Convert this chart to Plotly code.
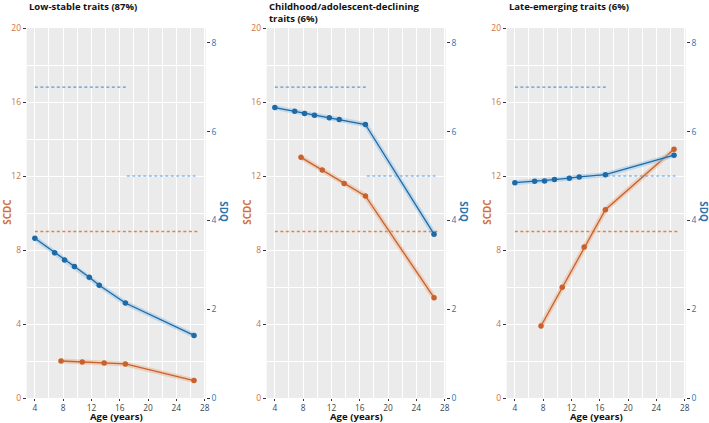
import plotly.graph_objects as go

# ---------------- data ----------------
panel_titles = ["Low-stable traits (87%)",
                "Childhood/adolescent-declining<br>traits (6%)",
                "Late-emerging traits (6%)"]

sdq_age = [4, 6.8, 8.2, 9.6, 11.7, 13.1, 16.8, 26.5]
scdc_age = [7.7, 10.7, 13.8, 16.8, 26.5]

sdq_low = [3.60, 3.27, 3.11, 2.96, 2.72, 2.54, 2.14, 1.41]
sdq_decl = [6.54, 6.46, 6.41, 6.37, 6.31, 6.27, 6.16, 3.69]
sdq_late = [4.85, 4.88, 4.89, 4.92, 4.95, 4.98, 5.03, 5.47]

scdc_low = [2.00, 1.95, 1.89, 1.84, 0.94]
scdc_decl = [13.01, 12.32, 11.60, 10.92, 5.42]
scdc_late = [3.89, 5.98, 8.16, 10.18, 13.44]

# clinical thresholds (dashed)
sdq_thr_child_age = [4, 17]
sdq_thr_child = [7, 7]
sdq_thr_adult_age = [17, 26.7]
sdq_thr_adult = [5, 5]
scdc_thr_age = [4, 27]
scdc_thr = [9, 9]

x_ticks = [4, 8, 12, 16, 20, 24, 28]
scdc_ticks = [0, 4, 8, 12, 16, 20]
sdq_ticks = [0, 2, 4, 6, 8]

# ---------------- style ----------------
W, H = 709, 423
ORANGE = "#C8612B"
BLUE = "#1D6AA6"
ORANGE_TXT = "#D0733C"
BLUE_TXT = "#2B74AE"
BLUE_DASH = "rgba(80,150,215,0.95)"
ORANGE_DASH = "#E5823F"
FONT = "Open Sans"
SCALE = 2.4  # SCDC = SDQ * 2.4

panel_left_px = [26.7, 266.7, 506.7]
panel_w_px = 179.0
top_px, bottom_px = 28.0, 398.0

sdq_series = [sdq_low, sdq_decl, sdq_late]
scdc_series = [scdc_low, scdc_decl, scdc_late]

fig = go.Figure()
annotations = []
layout = {}

for i in range(3):
    n = i + 1
    xa = "x" if n == 1 else f"x{n}"
    yl_id = 2 * i + 1
    yr_id = 2 * i + 2
    yl = "y" if yl_id == 1 else f"y{yl_id}"
    yr = f"y{yr_id}"

    # threshold dashed lines
    fig.add_trace(go.Scatter(x=sdq_thr_child_age, y=sdq_thr_child, mode="lines",
                             line=dict(color=BLUE_DASH, width=1.2, dash="3px,2.5px"),
                             xaxis=xa, yaxis=yr, showlegend=False, hoverinfo="skip"))
    fig.add_trace(go.Scatter(x=sdq_thr_adult_age, y=sdq_thr_adult, mode="lines",
                             line=dict(color=BLUE_DASH, width=1.2, dash="3px,2.5px"),
                             xaxis=xa, yaxis=yr, showlegend=False, hoverinfo="skip"))
    fig.add_trace(go.Scatter(x=scdc_thr_age, y=scdc_thr, mode="lines",
                             line=dict(color=ORANGE_DASH, width=1.3, dash="3px,2.5px"),
                             xaxis=xa, yaxis=yl, showlegend=False, hoverinfo="skip"))

    # halo underlays
    fig.add_trace(go.Scatter(x=scdc_age, y=scdc_series[i], mode="lines",
                             line=dict(color="rgba(235,170,130,0.45)", width=5),
                             xaxis=xa, yaxis=yl, showlegend=False, hoverinfo="skip"))
    fig.add_trace(go.Scatter(x=sdq_age, y=sdq_series[i], mode="lines",
                             line=dict(color="rgba(140,190,230,0.45)", width=5),
                             xaxis=xa, yaxis=yr, showlegend=False, hoverinfo="skip"))

    # series
    fig.add_trace(go.Scatter(x=scdc_age, y=scdc_series[i], mode="lines+markers",
                             line=dict(color=ORANGE, width=1.3),
                             marker=dict(color=ORANGE, size=5.5),
                             xaxis=xa, yaxis=yl, showlegend=False, name="SCDC"))
    fig.add_trace(go.Scatter(x=sdq_age, y=sdq_series[i], mode="lines+markers",
                             line=dict(color=BLUE, width=1.3),
                             marker=dict(color=BLUE, size=5.5),
                             xaxis=xa, yaxis=yr, showlegend=False, name="SDQ"))

    x0 = panel_left_px[i] / W
    x1 = (panel_left_px[i] + panel_w_px) / W
    ydom = [1 - bottom_px / H, 1 - top_px / H]

    layout["xaxis" if n == 1 else f"xaxis{n}"] = dict(
        domain=[x0, x1], range=[2.85, 28.15], anchor=yl, automargin=False,
        tickvals=x_ticks, ticks="outside", ticklen=2, tickcolor="#333333", tickwidth=1,
        tickfont=dict(family=FONT, size=8.3, color="#444444"),
        showgrid=True, gridcolor="white", gridwidth=1.1,
        minor=dict(tickvals=[6, 10, 14, 18, 22, 26], showgrid=True, gridcolor="white", gridwidth=0.5),
        zeroline=False, showline=False,
    )
    layout["yaxis" if yl_id == 1 else f"yaxis{yl_id}"] = dict(
        domain=ydom, range=[0, 20], anchor=xa, automargin=False,
        tickvals=scdc_ticks, ticks="outside", ticklen=3, tickcolor="#333333", tickwidth=1,
        tickfont=dict(family=FONT, size=8.5, color=ORANGE_TXT),
        showgrid=True, gridcolor="white", gridwidth=1.1,
        minor=dict(tickvals=[2, 6, 10, 14, 18], showgrid=True, gridcolor="white", gridwidth=0.5),
        zeroline=False, showline=False,
    )
    layout[f"yaxis{yr_id}"] = dict(
        domain=ydom, range=[0, 20 / SCALE], anchor=xa, overlaying=yl, side="right",
        automargin=False,
        tickvals=sdq_ticks, ticks="outside", ticklen=3, tickcolor="#333333", tickwidth=1,
        tickfont=dict(family=FONT, size=8.5, color=BLUE_TXT),
        showgrid=False, zeroline=False, showline=False,
    )

    # panel title
    annotations.append(dict(
        text=f"<b>{panel_titles[i]}</b>", xref="paper", yref="paper",
        x=x0, xanchor="left", y=1, yanchor="top", yshift=2, showarrow=False, align="left",
        font=dict(family=FONT, size=9.5, color="#111111")))
    # axis titles
    annotations.append(dict(
        text="<b>SCDC</b>", xref="paper", yref="paper",
        x=(panel_left_px[i] - 19) / W, xanchor="center",
        y=1 - 212 / H, yanchor="middle", textangle=-90, showarrow=False,
        font=dict(family=FONT, size=9.8, color=ORANGE_TXT)))
    annotations.append(dict(
        text="<b>SDQ</b>", xref="paper", yref="paper",
        x=(panel_left_px[i] + panel_w_px + 17) / W, xanchor="center",
        y=1 - 212 / H, yanchor="middle", textangle=90, showarrow=False,
        font=dict(family=FONT, size=9.8, color=BLUE_TXT)))
    annotations.append(dict(
        text="<b>Age (years)</b>", xref="paper", yref="paper",
        x=(x0 + x1) / 2, xanchor="center",
        y=0, yanchor="bottom", yshift=-2, showarrow=False,
        font=dict(family=FONT, size=9.6, color="#111111")))

fig.update_layout(
    width=W, height=H, autosize=False,
    margin=dict(l=0, r=0, t=0, b=0, autoexpand=False),
    paper_bgcolor="white", plot_bgcolor="#EBEBEB",
    annotations=annotations,
    **layout,
)

fig.write_html("out.html", config={"displayModeBar": False},
               post_script="document.body.style.margin='0';document.body.style.overflow='hidden';")
